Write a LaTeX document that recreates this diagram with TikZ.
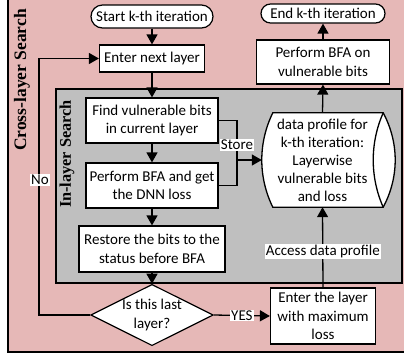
\documentclass[tikz,border=0pt]{standalone}
\usepackage{fontspec}
\setmainfont{Carlito}
\newfontfamily\labelfont{Liberation Serif}
\usetikzlibrary{shapes.geometric,arrows.meta,calc}

\definecolor{crosspink}{RGB}{230,184,183}
\definecolor{inlaygray}{RGB}{191,191,191}

\tikzset{
    >={Triangle[length=10pt,width=11pt]},
    box/.style={draw, line width=1.2pt, fill=white, align=center, inner sep=0pt,
        font=\fontsize{15}{18.5}\selectfont},
    pill/.style={box, rounded corners=9pt},
    decision/.style={box, diamond, aspect=2, minimum width=122pt, minimum height=58pt},
    flowarrow/.style={line width=1.3pt, ->},
    conn/.style={line width=1.3pt},
    lbl/.style={fill=white, inner sep=1pt, font=\fontsize{15}{18}\selectfont},
    searchlbl/.style={rotate=90, font=\labelfont\bfseries\fontsize{17.5}{20}\selectfont}
}

\begin{document}
\begin{tikzpicture}
    \useasboundingbox (0pt,0pt) rectangle (404pt,-360pt);

    % Search regions
    \begin{scope}
        \clip (0pt,0pt) rectangle (404pt,-360pt);
        \filldraw[fill=crosspink, line width=1.2pt] (8pt,5pt) rectangle (410pt,-352pt);
    \end{scope}
    \filldraw[fill=inlaygray, line width=1.2pt] (56pt,-89pt) rectangle (402pt,-283pt);
    \node[searchlbl] (crosslbl) at (22pt,-80pt) {Cross-layer Search};
    \node[searchlbl, font=\labelfont\bfseries\fontsize{16.3}{19}\selectfont] (inlbl) at (67pt,-154pt) {In-layer Search};

    % Left column
    \node[pill, minimum width=122pt, minimum height=23pt, rounded corners=11.5pt] (start) at (152pt,-16.5pt) {Start k-th iteration};
    \node[box, minimum width=105pt, minimum height=27pt] (next) at (152pt,-58.5pt) {Enter next layer};
    \node[box, minimum width=132pt, minimum height=45pt] (find) at (152pt,-120.5pt) {Find vulnerable bits\\in current layer};
    \node[box, minimum width=132pt, minimum height=45pt] (bfa) at (152pt,-185.5pt) {Perform BFA and get\\the DNN loss};
    \node[box, minimum width=146pt, minimum height=46pt] (restore) at (152pt,-249pt) {Restore the bits to the\\status before BFA};
    \node[decision] (last) at (152pt,-315pt) {Is this last\\layer?};

    % Right column
    \node[pill, minimum width=124pt, minimum height=19pt, rounded corners=9.5pt] (endit) at (323pt,-13.5pt) {End k-th iteration};
    \node[box, minimum width=133pt, minimum height=44pt] (bfav) at (323pt,-62pt) {Perform BFA on\\vulnerable bits};
    \node[align=center, inner sep=0pt, minimum width=121pt, minimum height=94pt] (dp) at (322.5pt,-160pt) {};
    \draw[conn, fill=white] ($(dp.north west)+(11pt,0pt)$) -- (dp.north east)
        .. controls +(16pt,-30pt) and +(16pt,30pt) .. (dp.south east)
        -- ($(dp.south west)+(11pt,0pt)$)
        .. controls +(-14.7pt,30pt) and +(-14.7pt,-30pt) .. ($(dp.north west)+(11pt,0pt)$) -- cycle;
    \draw[conn] (dp.north east) .. controls +(-13.3pt,-30pt) and +(-13.3pt,30pt) .. (dp.south east);
    \node[align=center, font=\fontsize{15}{18}\selectfont] (dptext) at (dp) {data profile for\\k-th iteration:\\Layerwise\\vulnerable bits\\and loss};
    \node[box, minimum width=105pt, minimum height=56pt] (maxl) at (323pt,-316pt) {Enter the layer\\with maximum\\loss};

    % Connectors
    \draw[flowarrow] (start) -- (next);
    \draw[flowarrow] (next) -- (find);
    \draw[flowarrow] (find) -- (bfa);
    \draw[flowarrow] (bfa) -- (restore);
    \draw[flowarrow] (restore) -- (last);
    \draw[flowarrow] (last.west) -- ++(-51pt,0pt) |- (next.west);
    \node[lbl] (nolbl) at (40pt,-180pt) {No};
    \coordinate (store) at (237pt,-160pt);
    \draw[conn] (find.east) -| (store);
    \draw[conn] (bfa.east) -| (store);
    \draw[flowarrow] (store) -- (dp.west);
    \node[lbl] (storelbl) at (237pt,-145pt) {Store};
    \draw[flowarrow] (last.east) -- node[lbl] (yeslbl) {YES} (maxl.west);
    \draw[flowarrow] (maxl.north) -- node[lbl, pos=0.45] (accesslbl) {Access data profile} (dp.south);
    \draw[flowarrow] (dp.north) -- (bfav.south);
    \draw[flowarrow] (bfav.north) -- (endit.south);
\end{tikzpicture}
\end{document}
